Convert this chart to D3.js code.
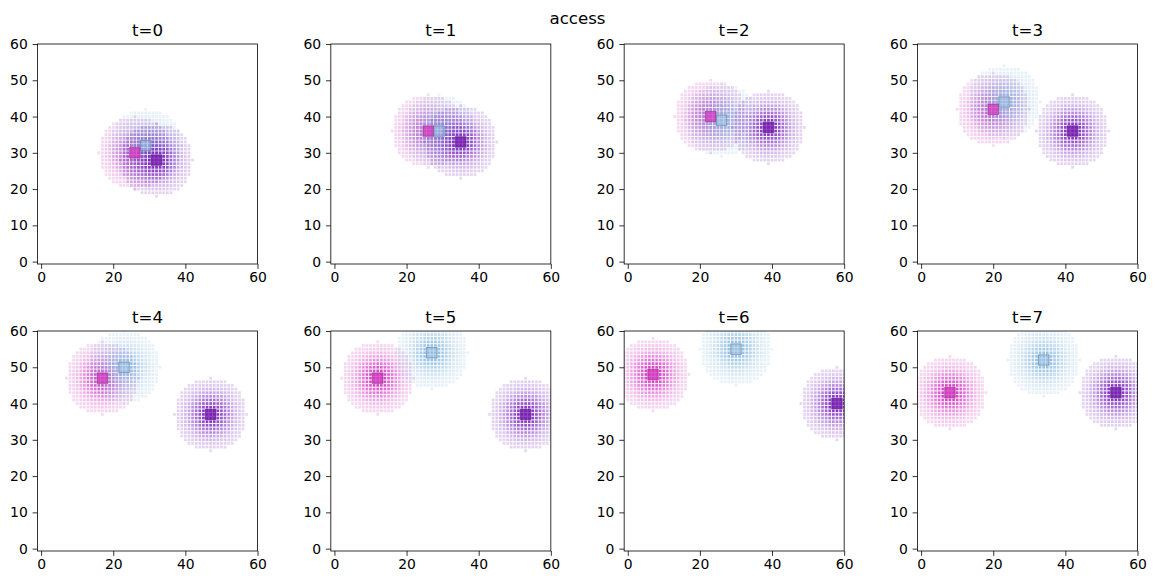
<!DOCTYPE html>
<html><head><meta charset="utf-8">
<script src="https://cdn.jsdelivr.net/npm/d3@7"></script>
<style>body{margin:0;background:#fff}svg{display:block}text{font-family:"DejaVu Sans",sans-serif}</style>
</head><body><div id="chart"></div>
<script>
const titles = ["t=0","t=1","t=2","t=3","t=4","t=5","t=6","t=7"];
const pinkX = [26,26,23,20,17,12,7,8];
const pinkY = [30,36,40,42,47,47,48,43];
const blueX = [29,29,26,23,23,27,30,34];
const blueY = [32,36,39,44,50,54,55,52];
const purpleX = [32,35,39,42,47,53,58,54];
const purpleY = [28,33,37,36,37,37,40,43];
const xTicks = [0,20,40,60];
const yTicks = [0,10,20,30,40,50,60];
const radius = 10;
const supTitle = "access";

const W = 1155, H = 584;
const svg = d3.select("#chart").append("svg").attr("width", W).attr("height", H);
svg.append("text").attr("x", 577.5).attr("y", 23.5).attr("text-anchor","middle")
  .attr("font-size","16.67px").text(supTitle);

const blobs = [
  {X: pinkX, Y: pinkY, color: "#d232c0", edge: "#8a1f7a", sq: "#d23cc2", sqA: 0.8},
  {X: blueX, Y: blueY, color: "#8cbce2", edge: "#4a6a8a", sq: "#9cc2e4", sqA: 0.6},
  {X: purpleX, Y: purpleY, color: "#7a26be", edge: "#4a1070", sq: "#7a20b2", sqA: 0.8}
];

const pw = 220, ph = 220;
const x = d3.scaleLinear().domain([-1, 60]).range([0, pw]);
const y = d3.scaleLinear().domain([-0.65, 60]).range([ph, 0]);

titles.forEach((t, i) => {
  const col = i % 4, row = Math.floor(i / 4);
  const left = 37.5 + col * 293.33, top = 44 + row * 287;
  const g = svg.append("g").attr("transform", `translate(${left},${top})`);
  const cid = "clip" + i;
  g.append("clipPath").attr("id", cid).append("rect").attr("width", pw).attr("height", ph);
  const plot = g.append("g").attr("clip-path", `url(#${cid})`);

  blobs.forEach(b => {
    const cx = b.X[i], cy = b.Y[i];
    const pts = [];
    for (let dx = -radius; dx <= radius; dx++)
      for (let dy = -radius; dy <= radius; dy++) {
        const d2 = dx*dx + dy*dy;
        if (d2 <= radius*radius) pts.push({px: cx+dx, py: cy+dy, d: Math.sqrt(d2)});
      }
    const s = 2.7;
    plot.append("g").selectAll("rect").data(pts).join("rect")
      .attr("x", d => x(d.px) - s/2).attr("y", d => y(d.py) - s/2)
      .attr("width", s).attr("height", s)
      .attr("fill", b.color)
      .attr("fill-opacity", d => 0.15 + 0.85 * Math.exp(-d.d*d.d/(2*4*4)));
  });
  blobs.forEach(b => {
    const cx = b.X[i], cy = b.Y[i];
    const S = 10.5;
    plot.append("rect").attr("x", x(cx) - S/2).attr("y", y(cy) - S/2)
      .attr("width", S).attr("height", S)
      .attr("fill", b.sq).attr("fill-opacity", b.sqA)
      .attr("stroke", b.edge).attr("stroke-opacity", 0.55).attr("stroke-width", 1);
  });

  const xa = g.append("g").attr("transform", `translate(0,${ph})`)
    .call(d3.axisBottom(x).tickValues(xTicks).tickSize(4.86).tickPadding(3.5).tickFormat(d3.format("d")));
  const ya = g.append("g")
    .call(d3.axisLeft(y).tickValues(yTicks).tickSize(4.86).tickPadding(4.86).tickFormat(d3.format("d")));
  [xa, ya].forEach(a => {
    a.select(".domain").remove();
    a.selectAll("line").attr("stroke", "#000").attr("stroke-width", 0.8);
    a.selectAll("text").attr("font-size", "13.9px").attr("fill", "#000").style("font-family", "DejaVu Sans");
  });
  g.append("rect").attr("width", pw).attr("height", ph).attr("fill", "none")
    .attr("stroke", "#000").attr("stroke-width", 0.8);
  g.append("text").attr("x", pw/2).attr("y", -8.3).attr("text-anchor", "middle")
    .attr("font-size", "16.67px").text(t);
});
</script></body></html>
